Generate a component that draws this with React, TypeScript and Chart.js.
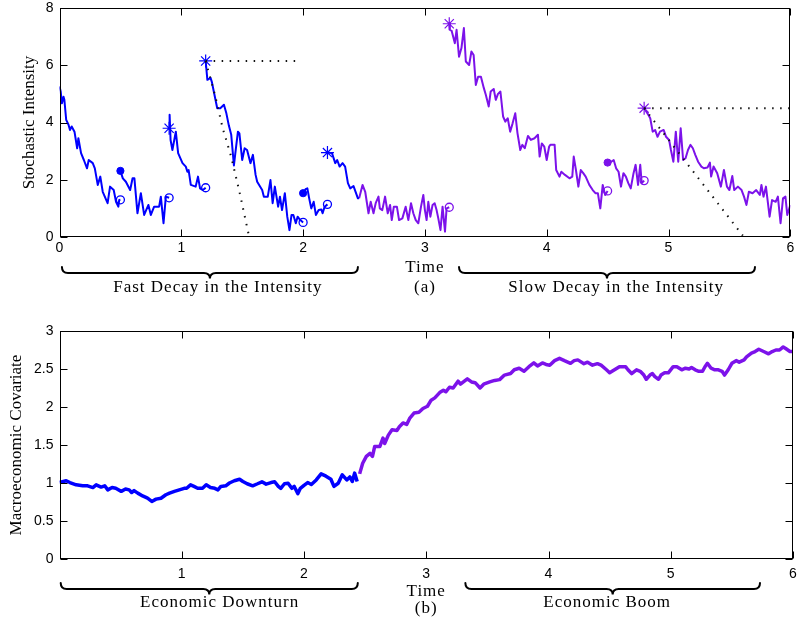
import { useEffect, useRef } from 'react';
import { Chart, registerables } from 'chart.js';

Chart.register(...registerables);

type P = [number, number];

// ---------- axis ticks ----------
const timeTicks = [0, 1, 2, 3, 4, 5, 6];
const intensityTicks = [0, 2, 4, 6, 8];
const covariateTicks = [0, 0.5, 1, 1.5, 2, 2.5, 3];

// ---------- panel (a): stochastic intensity segments ----------
const seg1: P[] = [[0,5.26],[0.01,5.08],[0.02,4.67],[0.033,4.9],[0.04,4.79],[0.055,4.09],[0.074,3.92],[0.086,3.74],[0.1,3.86],[0.123,3.68],[0.145,3.1],[0.155,3.45],[0.177,2.93],[0.2,2.69],[0.226,2.4],[0.24,2.69],[0.273,2.58],[0.29,2.4],[0.314,1.82],[0.335,2.11],[0.355,1.58],[0.395,1.18],[0.415,1.76],[0.445,1.64],[0.464,1.23],[0.483,1.06],[0.49,1.29],[0.5,1.3]];
const seg2: P[] = [[0.5,2.31],[0.52,2.05],[0.545,1.93],[0.58,1.64],[0.6,2.05],[0.615,2.05],[0.64,0.83],[0.668,1.53],[0.695,0.77],[0.73,1.12],[0.75,0.77],[0.777,1.06],[0.818,1.06],[0.832,1.41],[0.854,0.48],[0.873,1.41],[0.9,1.37]];
const seg3: P[] = [[0.9,3.8],[0.904,4.27],[0.912,3.39],[0.927,3.04],[0.955,3.68],[0.974,2.93],[1.01,2.58],[1.037,2.46],[1.05,2.28],[1.06,2.34],[1.078,1.82],[1.118,1.76],[1.137,2.11],[1.154,1.7],[1.178,1.64],[1.2,1.72]];
const seg4: P[] = [[1.2,6.15],[1.214,5.49],[1.24,5.56],[1.25,5.43],[1.295,4.5],[1.32,4.5],[1.35,4.62],[1.37,4.32],[1.39,3.9],[1.41,3.57],[1.432,2.5],[1.45,3.16],[1.465,3.68],[1.477,3.62],[1.5,2.69],[1.52,3.1],[1.54,3.04],[1.568,2.58],[1.588,2.87],[1.61,2.17],[1.623,1.93],[1.664,1.64],[1.678,1.41],[1.71,1.41],[1.732,1.99],[1.75,1.18],[1.768,1.76],[1.795,1.06],[1.81,1.41],[1.827,0.94],[1.85,1.53],[1.87,0.71],[1.888,0.24],[1.905,0.77],[1.92,0.77],[1.94,0.48],[1.955,0.71],[1.975,0.6],[2.0,0.51]];
const seg5: P[] = [[2.0,1.53],[2.01,1.6],[2.02,1.67],[2.035,1.7],[2.05,1.35],[2.067,1.0],[2.087,1.23],[2.105,0.77],[2.128,0.94],[2.15,0.96],[2.16,0.83],[2.177,1.06],[2.2,1.14]];
const seg6a: P[] = [[2.2,2.95],[2.237,2.93],[2.264,2.58],[2.28,2.69],[2.3,2.46],[2.324,2.58],[2.345,2.46],[2.368,1.88],[2.387,1.7],[2.414,1.78],[2.45,1.35],[2.46,1.35]];
const seg6b: P[] = [[2.46,1.35],[2.488,1.82],[2.51,1.58],[2.537,0.83],[2.555,1.23],[2.578,0.83],[2.596,1.18],[2.619,1.41],[2.63,1.0],[2.65,0.94],[2.673,1.41],[2.695,0.83],[2.714,1.12],[2.728,0.59],[2.745,1.06],[2.77,1.06],[2.788,0.59],[2.815,0.65],[2.842,1.06],[2.864,0.59],[2.886,1.18],[2.905,0.83],[2.925,0.59],[2.946,0.48],[2.968,1.06],[2.987,1.47],[3.0,0.94],[3.014,0.59],[3.028,1.23],[3.045,0.71],[3.063,1.12],[3.08,1.18],[3.096,0.94],[3.11,0.65],[3.128,0.24],[3.145,1.06],[3.165,0.19],[3.178,1.0],[3.2,1.04]];
const seg7: P[] = [[3.2,7.45],[3.205,7.24],[3.22,7.2],[3.246,6.77],[3.26,7.24],[3.28,6.3],[3.3,6.6],[3.32,7.3],[3.336,6.13],[3.363,6.01],[3.382,6.48],[3.4,6.36],[3.418,5.31],[3.437,5.6],[3.46,5.6],[3.484,5.2],[3.5,4.97],[3.524,4.56],[3.54,5.08],[3.565,5.17],[3.582,4.79],[3.6,5.0],[3.62,5.08],[3.642,4.21],[3.66,4.03],[3.68,4.15],[3.7,3.68],[3.72,3.97],[3.742,4.32],[3.76,3.63],[3.783,3.04],[3.8,3.22],[3.82,3.1],[3.846,3.53],[3.87,3.39],[3.9,3.45],[3.928,3.57],[3.942,2.81],[3.96,3.27],[3.98,3.16],[4.0,2.69],[4.02,3.16],[4.03,3.22],[4.065,3.22],[4.078,2.34],[4.105,2.11],[4.12,2.28],[4.15,2.17],[4.187,2.05],[4.21,2.11],[4.222,2.81],[4.24,2.34],[4.26,1.76],[4.28,2.34],[4.3,2.23],[4.32,2.11],[4.35,1.82],[4.378,1.64],[4.4,1.53],[4.42,1.53],[4.44,1.0],[4.46,1.82],[4.48,1.47],[4.5,1.61]];
const seg8: P[] = [[4.5,2.6],[4.51,2.69],[4.53,2.63],[4.55,2.69],[4.57,2.4],[4.59,2.28],[4.61,1.76],[4.63,2.23],[4.65,2.11],[4.67,1.88],[4.69,1.7],[4.713,2.23],[4.73,2.52],[4.75,1.82],[4.768,2.52],[4.78,1.88],[4.8,1.97]];
const seg9: P[] = [[4.8,4.5],[4.834,4.27],[4.85,4.15],[4.87,3.68],[4.89,3.74],[4.91,3.5],[4.93,3.68],[4.96,3.74],[4.98,3.5],[5.005,3.39],[5.02,3.04],[5.04,2.63],[5.06,3.68],[5.08,2.63],[5.1,3.8],[5.12,2.69],[5.14,2.75],[5.16,3.04],[5.18,3.22],[5.2,3.1],[5.22,2.87],[5.243,2.63],[5.27,2.46],[5.29,2.4],[5.32,2.43],[5.34,2.6],[5.35,2.11],[5.37,2.46],[5.4,2.23],[5.43,1.76],[5.455,2.34],[5.48,1.76],[5.5,1.64],[5.524,2.13],[5.54,1.64],[5.57,1.76],[5.6,1.64],[5.62,1.41],[5.64,1.12],[5.66,1.58],[5.69,1.53],[5.72,1.64],[5.75,1.47],[5.763,1.82],[5.78,1.41],[5.8,1.76],[5.83,0.71],[5.85,1.29],[5.88,1.23],[5.898,1.41],[5.92,0.48],[5.94,1.35],[5.96,1.41],[5.975,0.77],[6.0,1.12]];

// markers
const jumpPoints: P[] = [[0.9,3.8],[1.2,6.15],[2.2,2.95],[3.2,7.45],[4.8,4.5]];
const startPoints: P[] = [[0.5,2.31],[2.0,1.53],[4.5,2.6]];
const endPoints: P[] = [[0.5,1.3],[0.9,1.37],[1.2,1.72],[2.0,0.51],[2.2,1.14],[3.2,1.04],[4.5,1.61],[4.8,1.97]];

// dotted guides
const guideFastH: P[] = [[1.2,6.15],[1.98,6.15]];
const guideFastD: P[] = [[1.2,6.15],[1.28,4.9],[1.34,3.8],[1.41,2.8],[1.48,1.53],[1.555,0.05]];
const guideSlowH: P[] = [[4.8,4.5],[6.0,4.5]];
const guideSlowD: P[] = [[4.8,4.5],[5.61,0.05]];

// ---------- panel (b): macroeconomic covariate ----------
const covDownturn: P[] = [[0,1.006],[0.055,1.03],[0.085,1.006],[0.136,0.976],[0.19,0.963],[0.23,0.963],[0.273,0.94],[0.3,0.976],[0.34,0.946],[0.37,0.963],[0.395,0.91],[0.43,0.94],[0.46,0.93],[0.505,0.89],[0.54,0.92],[0.57,0.91],[0.59,0.875],[0.61,0.9],[0.64,0.867],[0.68,0.83],[0.72,0.8],[0.755,0.757],[0.79,0.788],[0.83,0.8],[0.87,0.845],[0.9,0.867],[0.94,0.89],[0.98,0.91],[1.02,0.93],[1.04,0.93],[1.072,0.976],[1.1,0.955],[1.13,0.93],[1.17,0.93],[1.2,0.976],[1.235,0.94],[1.27,0.93],[1.296,0.91],[1.32,0.955],[1.36,0.963],[1.39,1.0],[1.43,1.03],[1.473,1.05],[1.5,1.02],[1.535,0.99],[1.58,0.963],[1.62,0.99],[1.656,1.016],[1.69,0.985],[1.73,1.006],[1.76,1.016],[1.79,0.955],[1.81,0.93],[1.84,0.99],[1.87,0.997],[1.9,0.93],[1.92,0.955],[1.95,0.86],[1.97,0.93],[2.0,0.97],[2.03,1.006],[2.06,0.98],[2.1,1.04],[2.14,1.12],[2.18,1.09],[2.22,1.05],[2.245,0.955],[2.28,0.997],[2.313,1.108],[2.35,1.04],[2.375,1.08],[2.395,1.02],[2.414,1.13],[2.435,1.02]];
const covBoom: P[] = [[2.455,1.12],[2.48,1.26],[2.51,1.35],[2.54,1.39],[2.56,1.35],[2.578,1.48],[2.62,1.48],[2.646,1.59],[2.66,1.52],[2.69,1.63],[2.72,1.7],[2.76,1.69],[2.78,1.74],[2.81,1.79],[2.84,1.77],[2.864,1.85],[2.9,1.92],[2.94,1.93],[2.973,1.98],[3.01,2.01],[3.04,2.09],[3.07,2.12],[3.11,2.19],[3.14,2.22],[3.16,2.2],[3.19,2.26],[3.22,2.25],[3.26,2.34],[3.28,2.3],[3.336,2.37],[3.37,2.33],[3.4,2.32],[3.44,2.25],[3.47,2.3],[3.52,2.33],[3.56,2.35],[3.6,2.36],[3.64,2.42],[3.69,2.44],[3.72,2.49],[3.76,2.51],[3.8,2.47],[3.84,2.53],[3.88,2.58],[3.91,2.54],[3.95,2.58],[3.98,2.56],[4.01,2.55],[4.05,2.61],[4.09,2.64],[4.13,2.61],[4.18,2.575],[4.21,2.61],[4.24,2.62],[4.29,2.57],[4.32,2.59],[4.36,2.55],[4.4,2.57],[4.43,2.55],[4.474,2.49],[4.5,2.45],[4.54,2.49],[4.58,2.53],[4.63,2.53],[4.65,2.49],[4.68,2.44],[4.72,2.49],[4.75,2.47],[4.78,2.42],[4.8,2.365],[4.83,2.42],[4.85,2.44],[4.87,2.4],[4.9,2.365],[4.92,2.42],[4.95,2.45],[4.98,2.45],[5.02,2.53],[5.05,2.53],[5.09,2.49],[5.12,2.51],[5.15,2.5],[5.17,2.52],[5.2,2.49],[5.23,2.47],[5.26,2.47],[5.28,2.53],[5.3,2.575],[5.33,2.51],[5.36,2.49],[5.39,2.49],[5.42,2.47],[5.44,2.42],[5.47,2.49],[5.5,2.575],[5.535,2.61],[5.56,2.59],[5.6,2.62],[5.62,2.66],[5.66,2.71],[5.69,2.73],[5.72,2.76],[5.76,2.73],[5.8,2.7],[5.83,2.73],[5.86,2.75],[5.89,2.75],[5.92,2.79],[5.94,2.77],[5.975,2.73],[6.0,2.73]];

// annotation braces (in time units) and labels
const bracesA = [
  { from: 0.02, to: 2.45, label: 'Fast Decay in the Intensity', labelAt: 1.30 },
  { from: 3.28, to: 5.71, label: 'Slow Decay in the Intensity', labelAt: 4.57 },
];
const bracesB = [
  { from: 0.01, to: 2.44, label: 'Economic Downturn', labelAt: 1.31 },
  { from: 3.32, to: 5.73, label: 'Economic Boom', labelAt: 4.48 },
];

const BLUE = 'rgb(0,0,255)';
const PURPLE = '#7c12ea';
const SWITCH_T = 2.45;
const colorAt = (t: number) => (t < SWITCH_T ? BLUE : PURPLE);
const pts = (a: P[]) => a.map(([x, y]) => ({ x, y }));

const SERIF = '"Liberation Serif", "Times New Roman", serif';
const SANS = '"Liberation Sans", Arial, sans-serif';

function framePlugin() {
  return {
    id: 'frame',
    afterDraw(chart: any) {
      const { ctx, chartArea: a, scales } = chart;
      ctx.save();
      ctx.strokeStyle = '#000';
      ctx.lineWidth = 1;
      const L = Math.round(a.left) + 0.5, R = Math.round(a.right) - 0.5;
      const T = Math.round(a.top) + 0.5, B = Math.round(a.bottom) - 0.5;
      ctx.strokeRect(L, T, R - L, B - T);
      const len = 7;
      ctx.beginPath();
      scales.x.ticks.forEach((tk: any) => {
        const x = Math.round(scales.x.getPixelForValue(tk.value)) + 0.5;
        ctx.moveTo(x, B); ctx.lineTo(x, B - len);
        ctx.moveTo(x, T); ctx.lineTo(x, T + len);
      });
      scales.y.ticks.forEach((tk: any) => {
        const y = Math.round(scales.y.getPixelForValue(tk.value)) + 0.5;
        ctx.moveTo(L, y); ctx.lineTo(L + len, y);
        ctx.moveTo(R, y); ctx.lineTo(R - len, y);
      });
      ctx.stroke();
      ctx.restore();
    },
  };
}

function drawBrace(ctx: CanvasRenderingContext2D, x0: number, x1: number, y0: number) {
  const q = 6, tip = 5.5;
  const mid = (x0 + x1) / 2;
  ctx.beginPath();
  ctx.moveTo(x0, y0);
  ctx.quadraticCurveTo(x0, y0 + q, x0 + q, y0 + q);
  ctx.lineTo(mid - q, y0 + q);
  ctx.quadraticCurveTo(mid, y0 + q, mid, y0 + q + tip);
  ctx.quadraticCurveTo(mid, y0 + q, mid + q, y0 + q);
  ctx.lineTo(x1 - q, y0 + q);
  ctx.quadraticCurveTo(x1, y0 + q, x1, y0);
  ctx.stroke();
}

function annotPlugin(braces: typeof bracesA, braceY: number, labelY: number, timeY: number, sub: string, subY: number) {
  return {
    id: 'annot',
    afterDraw(chart: any) {
      const { ctx, scales } = chart;
      const xs = scales.x;
      ctx.save();
      ctx.strokeStyle = '#000';
      ctx.lineWidth = 2;
      ctx.lineCap = 'round';
      ctx.fillStyle = '#000';
      ctx.textAlign = 'center';
      ctx.textBaseline = 'middle';
      ctx.font = `17px ${SERIF}`;
      (ctx as any).letterSpacing = '1px';
      braces.forEach((b) => {
        drawBrace(ctx, xs.getPixelForValue(b.from), xs.getPixelForValue(b.to), braceY);
        ctx.fillText(b.label, xs.getPixelForValue(b.labelAt), labelY);
      });
      ctx.fillText('Time', xs.getPixelForValue(3), timeY);
      ctx.fillText(sub, xs.getPixelForValue(3), subY);
      ctx.restore();
    },
  };
}

function baseScales(yTicks: number[], yTitle: string, titlePad: number, xPad: number, xHeight: number, hideZero: boolean, yMax: number, yStep: number) {
  return {
    x: {
      type: 'linear', min: 0, max: 6,
      afterFit: (s: any) => { s.height = xHeight; s.paddingLeft = 0; s.paddingRight = 0; },
      afterBuildTicks: (s: any) => { s.ticks = timeTicks.map((v) => ({ value: v })); },
      grid: { display: false, drawTicks: false },
      border: { display: false },
      ticks: {
        padding: xPad, color: '#000', font: { family: SANS, size: 14 },
        maxRotation: 0, autoSkip: false,
        callback: (v: number) => (hideZero && v === 0 ? '' : String(v)),
      },
    },
    y: {
      type: 'linear', min: 0, max: yMax,
      afterFit: (s: any) => { s.width = 59.5; s.paddingTop = 0; s.paddingBottom = 0; },
      afterBuildTicks: (s: any) => { s.ticks = yTicks.map((v) => ({ value: v })); },
      grid: { display: false, drawTicks: false },
      border: { display: false },
      ticks: { padding: 6, color: '#000', font: { family: SANS, size: 14 }, stepSize: yStep, callback: (v: number) => String(v) },
      title: { display: true, text: yTitle, color: '#000', font: { family: SERIF, size: 17 }, padding: { top: titlePad, bottom: 0 } },
    },
  };
}

export default function App() {
  const topRef = useRef<HTMLCanvasElement>(null);
  const botRef = useRef<HTMLCanvasElement>(null);

  useEffect(() => {
    const lineDs = (data: P[], color: string, width: number) => ({
      data: pts(data), showLine: true, borderColor: color, borderWidth: width,
      pointRadius: 0, tension: 0, fill: false, borderJoinStyle: 'round',
    });
    const dotDs = (data: P[]) => ({
      data: pts(data), showLine: true, borderColor: '#111', borderWidth: 2,
      borderDash: [1.5, 6.5], pointRadius: 0, tension: 0, fill: false,
    });
    const segments = [seg1, seg2, seg3, seg4, seg5, seg6a, seg6b, seg7, seg8, seg9];

    const top = new Chart(topRef.current!, {
      type: 'scatter',
      data: {
        datasets: [
          dotDs(guideFastH), dotDs(guideFastD), dotDs(guideSlowH), dotDs(guideSlowD),
          ...segments.map((s) => lineDs(s, colorAt((s[0][0] + s[s.length - 1][0]) / 2), 2)),
          {
            data: pts(jumpPoints), pointStyle: 'star', pointRadius: 6.5, pointBorderWidth: 1.2,
            pointBorderColor: jumpPoints.map(([t]) => colorAt(t)), pointBackgroundColor: 'transparent',
          },
          {
            data: pts(startPoints), pointStyle: 'circle', pointRadius: 3.6, pointBorderWidth: 1,
            pointBorderColor: startPoints.map(([t]) => colorAt(t)), pointBackgroundColor: startPoints.map(([t]) => colorAt(t)),
          },
          {
            data: pts(endPoints), pointStyle: 'circle', pointRadius: 4, pointBorderWidth: 1.3,
            pointBorderColor: endPoints.map(([t]) => colorAt(t)), pointBackgroundColor: 'rgba(0,0,0,0)',
          },
        ] as any,
      },
      options: {
        responsive: false, animation: false, devicePixelRatio: 1,
        layout: { padding: { left: 0, right: 5, top: 8, bottom: 0 } },
        plugins: { legend: { display: false }, tooltip: { enabled: false } },
        scales: baseScales(intensityTicks, 'Stochastic Intensity', 19, 3, 63, false, 8, 2) as any,
      },
      plugins: [framePlugin(), annotPlugin(bracesA, 267, 288, 268, '(a)', 288)],
    });

    const bot = new Chart(botRef.current!, {
      type: 'scatter',
      data: {
        datasets: [lineDs(covDownturn, BLUE, 3.5), lineDs(covBoom, PURPLE, 3.5)] as any,
      },
      options: {
        responsive: false, animation: false, devicePixelRatio: 1,
        layout: { padding: { left: 0, right: 5, top: 31, bottom: 0 } },
        plugins: { legend: { display: false }, tooltip: { enabled: false } },
        scales: baseScales(covariateTicks, 'Macroeconomic Covariate', 6, 7, 62, true, 3, 0.5) as any,
      },
      plugins: [framePlugin(), annotPlugin(bracesB, 283, 303, 292, '(b)', 309)],
    });

    return () => { top.destroy(); bot.destroy(); };
  }, []);

  return (
    <div style={{ position: 'absolute', left: 0, top: 0, width: 798, height: 621, background: '#fff' }}>
      <canvas ref={topRef} width={798} height={300} style={{ position: 'absolute', left: 0, top: 0, display: 'block' }} />
      <canvas ref={botRef} width={798} height={321} style={{ position: 'absolute', left: 0, top: 300, display: 'block' }} />
    </div>
  );
}
